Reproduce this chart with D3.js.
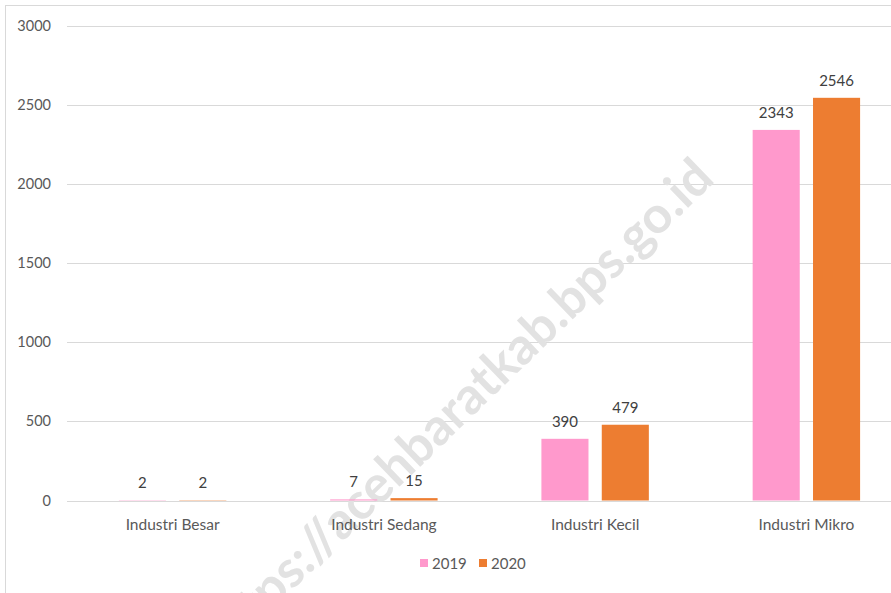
<!DOCTYPE html>
<html>
<head>
<meta charset="utf-8">
<script src="https://cdn.jsdelivr.net/npm/d3@7"></script>
<style>
  html, body { margin: 0; padding: 0; background: #fff; }
  svg { display: block; }
  text { font-family: Lato, "Open Sans", sans-serif; }
</style>
</head>
<body>
<svg id="chart" width="891" height="593"></svg>
<script>
// Jumlah industri per kategori, 2019 dan 2020
const categories = ["Industri Besar", "Industri Sedang", "Industri Kecil", "Industri Mikro"];
const years = ["2019", "2020"];
const values2019 = [2, 7, 390, 2343];
const values2020 = [2, 15, 479, 2546];
const yTicks = [0, 500, 1000, 1500, 2000, 2500, 3000];
const colors = ["#FF99CC", "#ED7D31"];

const series = [values2019, values2020];
const W = 891, H = 593;
const svg = d3.select("#chart");

// chart frame (left and top edges)
svg.append("rect")
  .attr("x", 5.5).attr("y", 5.5)
  .attr("width", W + 10).attr("height", H + 10)
  .attr("fill", "none").attr("stroke", "#d9d9d9").attr("stroke-width", 1);

const plot = { left: 67, right: 912, top: 26, bottom: 500.5 };

const x = d3.scaleBand().domain(categories).range([plot.left, plot.right]).paddingInner(0).paddingOuter(0);
const xs = d3.scaleBand().domain(years).range([0, x.bandwidth()]).paddingInner(0.22).paddingOuter(0.86);
const y = d3.scaleLinear().domain([0, 3000]).range([plot.bottom, plot.top]);

// horizontal gridlines
svg.append("g").selectAll("line").data(yTicks).join("line")
  .attr("x1", plot.left).attr("x2", plot.right)
  .attr("y1", d => Math.round(y(d)) + 0.5).attr("y2", d => Math.round(y(d)) + 0.5)
  .attr("stroke", "#d9d9d9").attr("stroke-width", 1);

// site watermark
svg.append("text")
  .attr("transform", "translate(716,181) rotate(-44)")
  .attr("text-anchor", "end")
  .attr("font-family", "Liberation Sans, Arial, sans-serif")
  .attr("font-weight", "bold")
  .attr("font-size", 51)
  .attr("fill", "#e2e2e2")
  .text("https://acehbaratkab.bps.go.id");

// y tick labels
svg.append("g").selectAll("text").data(yTicks).join("text")
  .attr("x", 51).attr("y", d => y(d) + 5)
  .attr("text-anchor", "end")
  .attr("font-size", 14.5).attr("fill", "#595959")
  .text(d => d);

// bars
const groups = svg.append("g").selectAll("g").data(categories).join("g")
  .attr("transform", d => `translate(${x(d)},0)`);

groups.each(function(cat, ci) {
  const g = d3.select(this);
  years.forEach((yr, si) => {
    const v = series[si][ci];
    g.append("rect")
      .attr("x", xs(yr)).attr("width", xs.bandwidth())
      .attr("y", y(v)).attr("height", y(0) - y(v))
      .attr("fill", colors[si]);
    g.append("text")
      .attr("x", xs(yr) + xs.bandwidth() / 2)
      .attr("y", y(v) - 12)
      .attr("text-anchor", "middle")
      .attr("font-size", 15).attr("fill", "#404040")
      .text(v);
  });
});

// category labels
svg.append("g").selectAll("text").data(categories).join("text")
  .attr("x", d => x(d) + x.bandwidth() / 2).attr("y", 530)
  .attr("text-anchor", "middle")
  .attr("font-size", 15.5).attr("fill", "#595959")
  .text(d => d);

// legend
const legend = svg.append("g").attr("transform", "translate(420,559)");
years.forEach((yr, i) => {
  const lg = legend.append("g").attr("transform", `translate(${i * 59},0)`);
  lg.append("rect").attr("width", 8).attr("height", 8).attr("fill", colors[i]);
  lg.append("text").attr("x", 12).attr("y", 9.5)
    .attr("font-size", 15).attr("fill", "#595959").text(yr);
});
</script>
</body>
</html>
